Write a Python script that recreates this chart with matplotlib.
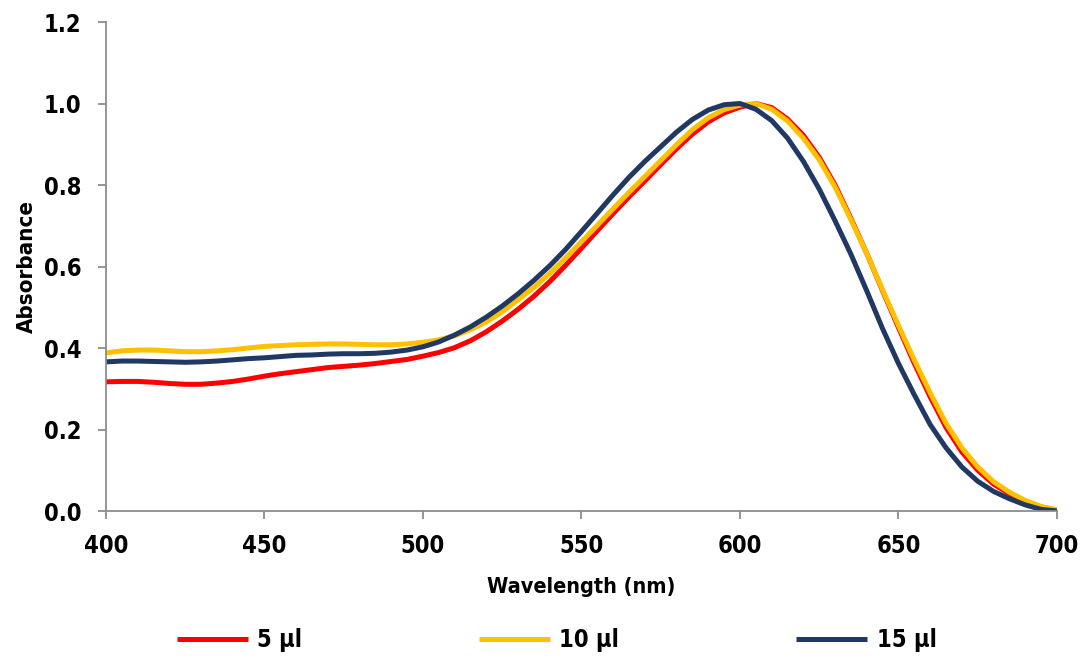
import matplotlib

matplotlib.use("Agg")
import matplotlib.pyplot as plt

# Wavelength grid (nm), 5 nm steps
wavelength = list(range(400, 705, 5))

# 5 µl
abs_5ul = [
    0.317, 0.318, 0.318, 0.316, 0.313, 0.311, 0.311, 0.314, 0.318, 0.324,
    0.331, 0.337, 0.342, 0.347, 0.352, 0.355, 0.358, 0.362, 0.367, 0.372,
    0.380, 0.389, 0.401, 0.418, 0.440, 0.466, 0.495, 0.527, 0.563, 0.603,
    0.645, 0.688, 0.730, 0.771, 0.810, 0.850, 0.889, 0.925, 0.955, 0.977,
    0.991, 1.000, 0.990, 0.962, 0.922, 0.868, 0.800, 0.718, 0.632, 0.540,
    0.450, 0.362, 0.280, 0.205, 0.145, 0.100, 0.066, 0.042, 0.024, 0.010,
    0.002,
]

# 10 µl
abs_10ul = [
    0.388, 0.393, 0.395, 0.395, 0.393, 0.391, 0.391, 0.393, 0.396, 0.400,
    0.404, 0.406, 0.408, 0.409, 0.410, 0.410, 0.409, 0.408, 0.408, 0.410,
    0.414, 0.420, 0.430, 0.445, 0.464, 0.489, 0.518, 0.549, 0.583, 0.621,
    0.661, 0.701, 0.742, 0.782, 0.821, 0.860, 0.899, 0.936, 0.965, 0.985,
    0.996, 1.000, 0.986, 0.957, 0.915, 0.862, 0.795, 0.715, 0.632, 0.542,
    0.455, 0.370, 0.290, 0.215, 0.155, 0.108, 0.072, 0.046, 0.026, 0.011,
    0.003,
]

# 15 µl
abs_15ul = [
    0.366, 0.368, 0.368, 0.367, 0.366, 0.365, 0.366, 0.368, 0.371, 0.374,
    0.376, 0.379, 0.382, 0.383, 0.385, 0.386, 0.386, 0.387, 0.390, 0.395,
    0.403, 0.415, 0.432, 0.452, 0.476, 0.503, 0.533, 0.566, 0.602, 0.642,
    0.686, 0.731, 0.776, 0.819, 0.858, 0.894, 0.930, 0.961, 0.984, 0.997,
    1.000, 0.986, 0.958, 0.915, 0.858, 0.790, 0.712, 0.630, 0.540, 0.447,
    0.362, 0.285, 0.212, 0.155, 0.108, 0.073, 0.048, 0.030, 0.015, 0.004,
    0.000,
]

series_labels = ["5 µl", "10 µl", "15 µl"]
series_colors = ["#FF0000", "#FFC000", "#1F3864"]
y_ticks = [0, 0.2, 0.4, 0.6, 0.8, 1.0, 1.2]

# condensed bold, closest thing to the original narrow typeface
plt.rcParams["font.family"] = ["DejaVu Sans"]
plt.rcParams["font.stretch"] = "condensed"
plt.rcParams["font.weight"] = "bold"

fig = plt.figure(figsize=(10.87, 6.57), dpi=100)
ax = fig.add_axes([0.0975, 0.2222, 0.8749, 0.7443])

for ys, lab, col in zip([abs_5ul, abs_10ul, abs_15ul], series_labels, series_colors):
    ax.plot(wavelength, ys, color=col, lw=3.6, label=lab, solid_capstyle="butt")

ax.set_xlim(400, 700)
ax.set_ylim(0, 1.2)
ax.set_xticks(range(400, 701, 50))
ax.set_yticks(y_ticks)
ax.set_yticklabels([f"{v:.1f}" for v in y_ticks])

for s in ["top", "right"]:
    ax.spines[s].set_visible(False)
for s in ["left", "bottom"]:
    ax.spines[s].set_color("#8C8C8C")
    ax.spines[s].set_linewidth(1.3)

ax.tick_params(axis="both", direction="out", length=5.5, width=1.3,
               color="#8C8C8C", labelsize=17)
ax.tick_params(axis="x", pad=11)
ax.tick_params(axis="y", pad=12)
for t in ax.get_xticklabels() + ax.get_yticklabels():
    t.set_fontweight("bold")

ax.set_xlabel("Wavelength (nm)", fontsize=15.5, fontweight="bold", labelpad=14)
ax.set_ylabel("Absorbance", fontsize=16, fontweight="bold", labelpad=5)

fig.legend(loc="center", bbox_to_anchor=(0.512, 0.026), ncol=3, frameon=False,
           fontsize=17, handlelength=3.0, handletextpad=0.4, columnspacing=7.5)

fig.savefig("out.png", dpi=100)
